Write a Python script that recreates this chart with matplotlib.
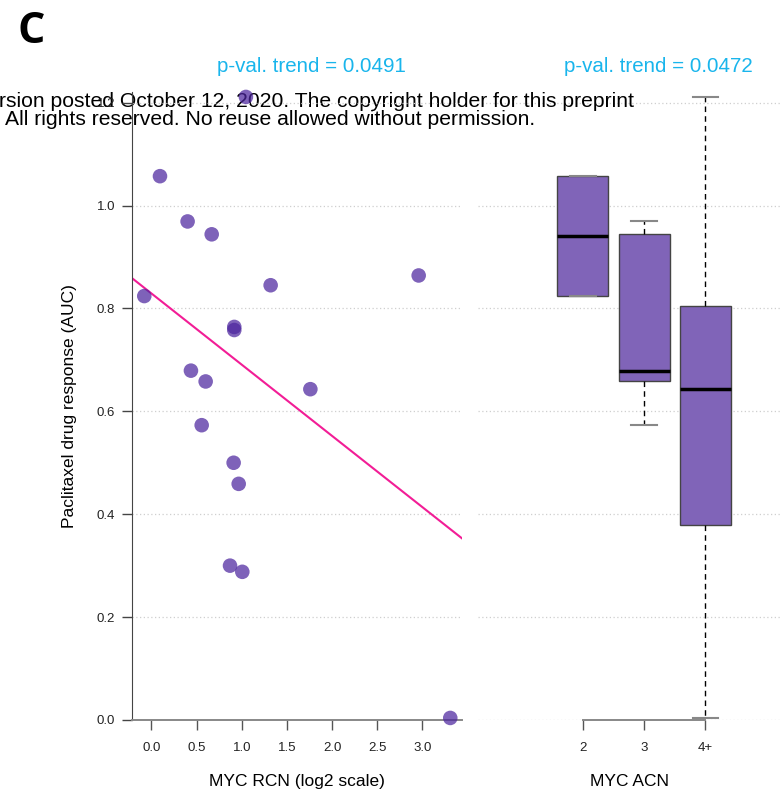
import numpy as np
import matplotlib
matplotlib.use("Agg")
import matplotlib.pyplot as plt

plt.rcParams['font.family'] = ['Liberation Sans', 'DejaVu Sans']

# MYC relative copy number (log2) vs paclitaxel AUC, one entry per sample
rcn_log2 = [-0.08, 0.094, 0.40, 0.667, 0.437, 0.60, 0.556, 1.32, 2.96,
            0.917, 0.917, 1.76, 0.91, 0.966, 0.87, 1.006, 3.31, 1.046]
auc = [0.824, 1.057, 0.969, 0.944, 0.679, 0.658, 0.573, 0.845, 0.864,
       0.764, 0.758, 0.643, 0.500, 0.459, 0.300, 0.288, 0.004, 1.211]
acn = ['2', '2', '3', '3', '3', '3', '3', '4+', '4+',
       '4+', '4+', '4+', '4+', '4+', '4+', '4+', '4+', '4+']
acn_levels = ['2', '3', '4+']

pval_rcn = 0.0491
pval_acn = 0.0472

dot_color = '#4c259e'
box_color = '#8064b8'
line_color = '#f21d96'
pval_color = '#19b5ec'
grid_color = '#cfcfcf'


def fivenum(values):
    """Tukey five-number summary (same hinges as R's boxplot)."""
    v = np.sort(np.asarray(values, dtype=float))
    n = len(v)
    n4 = np.floor((n + 3) / 2) / 2
    d = np.array([1, n4, (n + 1) / 2, n + 1 - n4, n]) - 1
    return 0.5 * (v[np.floor(d).astype(int)] + v[np.ceil(d).astype(int)])


def box_stats(values):
    lo, q1, med, q3, hi = fivenum(values)
    iqr = q3 - q1
    v = np.asarray(values)
    wlo = v[v >= q1 - 1.5 * iqr].min()
    whi = v[v <= q3 + 1.5 * iqr].max()
    return dict(med=med, q1=q1, q3=q3, whislo=wlo, whishi=whi, fliers=[])


W, H = 782, 807
fig = plt.figure(figsize=(W / 100, H / 100), dpi=100)


def px_axes(x0, x1, y0, y1):
    return fig.add_axes([x0 / W, 1 - y1 / H, (x1 - x0) / W, (y1 - y0) / H])


ymax = 1.22
ax1 = px_axes(132, 462, 720 - ymax * 514.5, 720)
ax2 = px_axes(478, 782, 720 - ymax * 514.5, 720)

for ax in (ax1, ax2):
    ax.set_ylim(0, ymax)
    ax.set_yticks(np.arange(0, 1.21, 0.2))
    for yv in np.arange(0, 1.21, 0.2):
        ax.axhline(yv, color=grid_color, lw=0.9, ls=(0, (1, 2)), zorder=0)
    ax.spines['top'].set_visible(False)
    ax.spines['right'].set_visible(False)
    ax.patch.set_alpha(0)

# scatter panel
ax1.set_zorder(5)
ax1.set_xlim(-0.216, 3.44)
ax1.scatter(rcn_log2, auc, s=110, color=dot_color, alpha=0.72,
            edgecolors='none', zorder=3, clip_on=False)
slope, intercept = np.polyfit(rcn_log2, auc, 1)
xs = np.array(ax1.get_xlim())
ax1.plot(xs, intercept + slope * xs, color=line_color, lw=1.5, zorder=2)

ax1.set_xticks(np.arange(0, 3.01, 0.5))
ax1.set_xticklabels([f"{t:.1f}" for t in np.arange(0, 3.01, 0.5)])
ax1.set_yticklabels([f"{t:.1f}" for t in np.arange(0, 1.21, 0.2)])
ax1.tick_params(axis='x', length=7, width=1, color='#555555', pad=9,
                labelsize=9.5, labelcolor='#222222')
ax1.tick_params(axis='y', length=7, width=1, color='#444444', pad=5,
                labelsize=9.5, labelcolor='#222222')
ax1.spines['left'].set_color('#444444')
ax1.spines['bottom'].set_color('#888888')
ax1.spines['bottom'].set_linewidth(1.4)
ax1.set_xlabel('MYC RCN (log2 scale)', fontsize=12.5, labelpad=14)
ax1.set_ylabel('Paclitaxel drug response (AUC)', fontsize=12.5, labelpad=14)

# box panel
stats = [box_stats([a for a, g in zip(auc, acn) if g == lev])
         for lev in acn_levels]
ax2.bxp(stats, positions=[1, 2, 3], widths=0.83, capwidths=0.42,
        showfliers=False, patch_artist=True,
        boxprops=dict(facecolor=box_color, edgecolor='#444444', lw=1),
        medianprops=dict(color='black', lw=2.5),
        whiskerprops=dict(color='black', lw=1, ls=(0, (4, 3))),
        capprops=dict(color='#888888', lw=1.5))
ax2.set_xlim(-0.71, 4.25)
ax2.set_xticks([1, 2, 3])
ax2.set_xticklabels(acn_levels)
ax2.spines['left'].set_visible(False)
ax2.spines['bottom'].set_bounds(1, 3)
ax2.spines['bottom'].set_color('#888888')
ax2.spines['bottom'].set_linewidth(1.4)
ax2.tick_params(axis='y', left=False, labelleft=False)
ax2.tick_params(axis='x', length=7, width=1, color='#555555', pad=9,
                labelsize=9.5, labelcolor='#222222')
ax2.set_xlabel('MYC ACN', fontsize=12.5, labelpad=14)

# trend p-values
fig.text(311 / W, 1 - 67 / H, f'p-val. trend = {pval_rcn}', color=pval_color,
         fontsize=14.8, ha='center', va='center')
fig.text(658 / W, 1 - 67 / H, f'p-val. trend = {pval_acn}', color=pval_color,
         fontsize=14.8, ha='center', va='center')

# panel letter and preprint banner
fig.text(17 / W, 1 - 43 / H, 'C', fontsize=31, fontweight='bold',
         family='Open Sans', va='baseline')
fig.text(-1 / W, 1 - 107 / H,
         'rsion posted October 12, 2020. The copyright holder for this preprint',
         fontsize=15.2, va='baseline', zorder=1)
fig.text(5 / W, 1 - 125 / H,
         'All rights reserved. No reuse allowed without permission.',
         fontsize=15.2, va='baseline', zorder=1)

fig.savefig('out.png', dpi=100)
